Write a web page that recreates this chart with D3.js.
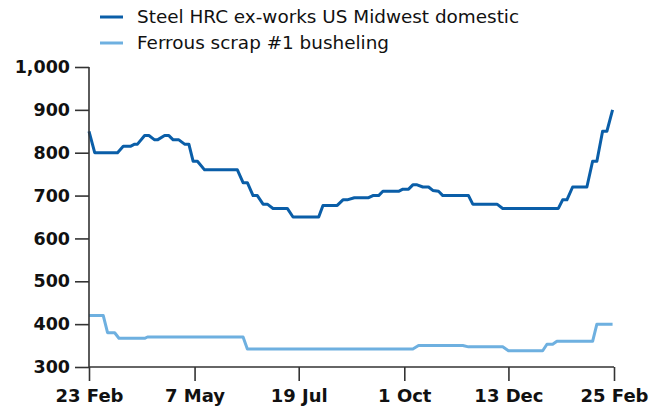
<!DOCTYPE html>
<html><head><meta charset="utf-8">
<script src="https://cdn.jsdelivr.net/npm/d3@7"></script>
<style>body{margin:0;background:#fff}svg{display:block}</style>
</head><body>
<script>
const seriesNames = ["Steel HRC ex-works US Midwest domestic", "Ferrous scrap #1 busheling"];
const seriesColors = ["#0a5ea8", "#6eb0e0"];
const hrcDates = ["2024-02-23","2024-02-27","2024-03-14","2024-03-18","2024-03-23","2024-03-26","2024-03-28","2024-04-02","2024-04-05","2024-04-09","2024-04-11","2024-04-16","2024-04-19","2024-04-22","2024-04-26","2024-04-30","2024-05-03","2024-05-06","2024-05-09","2024-05-14","2024-06-06","2024-06-10","2024-06-13","2024-06-17","2024-06-20","2024-06-24","2024-06-27","2024-07-01","2024-07-11","2024-07-15","2024-08-02","2024-08-05","2024-08-15","2024-08-19","2024-08-22","2024-08-27","2024-09-06","2024-09-09","2024-09-13","2024-09-16","2024-09-27","2024-09-30","2024-10-04","2024-10-07","2024-10-10","2024-10-14","2024-10-18","2024-10-21","2024-10-25","2024-10-28","2024-11-15","2024-11-18","2024-12-05","2024-12-09","2025-01-17","2025-01-20","2025-01-23","2025-01-27","2025-02-06","2025-02-10","2025-02-13","2025-02-17","2025-02-20","2025-02-24"];
const hrcValues = [850,800,800,815,815,820,820,840,840,830,830,840,840,830,830,820,820,780,780,760,760,730,730,700,700,680,680,670,670,650,650,677,677,690,690,695,695,700,700,710,710,715,715,725,725,720,720,712,710,700,700,680,680,670,670,690,690,720,720,780,780,850,850,900];
const scrapDates = ["2024-02-23","2024-03-04","2024-03-07","2024-03-12","2024-03-15","2024-04-02","2024-04-04","2024-06-10","2024-06-13","2024-10-07","2024-10-11","2024-11-11","2024-11-15","2024-12-09","2024-12-13","2025-01-06","2025-01-09","2025-01-13","2025-01-16","2025-02-10","2025-02-13","2025-02-24"];
const scrapValues = [420,420,380,380,367,367,370,370,342,342,350,350,347,347,338,338,353,353,360,360,400,400];
const xTickDates = ["2024-02-23","2024-05-07","2024-07-19","2024-10-01","2024-12-13","2025-02-25"];
const xTickLabels = ["23 Feb","7 May","19 Jul","1 Oct","13 Dec","25 Feb"];
const yTicks = [300,400,500,600,700,800,900,1000];

const W = 662, H = 414;
const margin = {left: 89, right: 48, top: 67, bottom: 47};
const parse = d3.utcParse("%Y-%m-%d");
const svg = d3.select("body").append("svg").attr("width", W).attr("height", H);
const font = "'DejaVu Sans', sans-serif";

const x = d3.scaleUtc().domain([parse(xTickDates[0]), parse(xTickDates[xTickDates.length-1])]).range([margin.left, W - margin.right]);
const y = d3.scaleLinear().domain([300, 1000]).range([H - margin.bottom, margin.top]);

const series = [
  hrcDates.map((d,i)=>({date: parse(d), value: hrcValues[i]})),
  scrapDates.map((d,i)=>({date: parse(d), value: scrapValues[i]}))
];

const line = d3.line().x(d=>x(d.date)).y(d=>y(d.value));
svg.selectAll("path.series").data(series).join("path").attr("class","series")
  .attr("d", line).attr("fill","none")
  .attr("stroke",(d,i)=>seriesColors[i]).attr("stroke-width",3).attr("stroke-linejoin","round");

const yAxis = svg.append("g").attr("transform",`translate(${margin.left},0)`)
  .call(d3.axisLeft(y).tickValues(yTicks).tickFormat(d3.format(",")).tickSize(14).tickPadding(5));
const xAxis = svg.append("g").attr("transform",`translate(0,${H - margin.bottom})`)
  .call(d3.axisBottom(x).tickValues(xTickDates.map(parse)).tickFormat((d,i)=>xTickLabels[i]).tickSize(14).tickPadding(8));
[yAxis, xAxis].forEach(g=>{
  g.select(".domain").attr("stroke","#333").attr("stroke-width",1.6);
  g.selectAll(".tick line").attr("stroke","#333").attr("stroke-width",1.6);
  g.selectAll("text").attr("fill","#111").attr("font-family",font).attr("font-size",17.5).attr("font-weight","bold");
});
xAxis.selectAll("text").attr("font-size",18);
yAxis.select(".domain").attr("d", `M-0,${y(1000)}V${y(300)}`);
xAxis.select(".domain").attr("d", `M${x.range()[0]},0H${x.range()[1]}`);

const leg = svg.append("g");
seriesNames.forEach((n,i)=>{
  const yy = 17 + i*26;
  leg.append("line").attr("x1",100).attr("x2",123).attr("y1",yy).attr("y2",yy)
    .attr("stroke",seriesColors[i]).attr("stroke-width",3);
  leg.append("text").attr("x",137).attr("y",yy).attr("dy","0.35em")
    .attr("font-family",font).attr("font-size",18.4).attr("fill","#111").text(n);
});
</script>
</body></html>
